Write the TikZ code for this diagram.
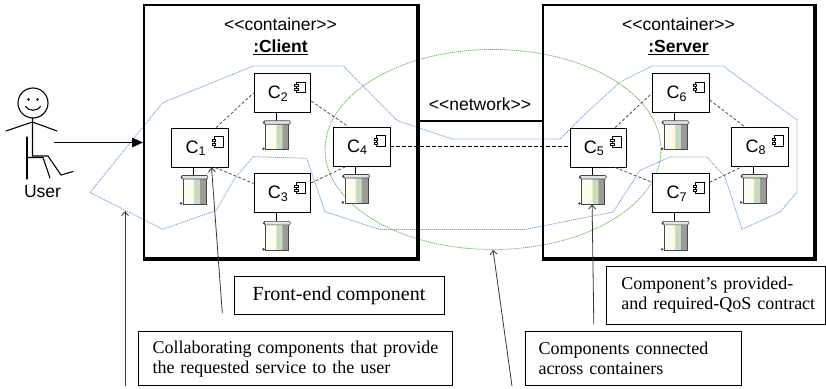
\documentclass[tikz,border=0pt]{standalone}
\usepackage{fontspec}
\setmainfont{Liberation Sans}
\newfontfamily\calloutfont{Liberation Serif}
\usetikzlibrary{arrows.meta,shapes.geometric,calc}

\definecolor{zoneblue}{RGB}{115,160,225}
\definecolor{zonegreen}{RGB}{105,180,85}
\definecolor{linkgray}{RGB}{80,80,80}
\definecolor{leadgray}{RGB}{55,55,55}
\definecolor{artcream}{RGB}{253,251,236}
\definecolor{artgreen}{RGB}{192,222,184}
\definecolor{artlight}{RGB}{228,228,228}
\definecolor{artgray}{RGB}{155,155,155}
\definecolor{artdark}{RGB}{70,70,70}

% vertical stripes of an artifact scroll: cream, green band, grey edge
\pgfdeclarehorizontalshading{scrollshade}{100bp}{%
  color(0bp)=(artcream); color(46bp)=(artcream); color(49bp)=(artgreen);
  color(57bp)=(artgreen); color(59bp)=(artlight); color(61bp)=(artgray);
  color(100bp)=(artgray)}

% subscript of a component label
\newcommand\idxsub[1]{\raisebox{-2.9pt}{\fontsize{12.5}{12.5}\selectfont #1}}

% a component box with its label, component icon and artifact below
\newcommand\umlcomp[3]{%
  \node[comp] (#1) at #2 {};
  \node[clabel] at ($(#1.center)+(-4.5,5.5)$) {C\idxsub{#3}};
  \draw[iconline] ($(#1.north east)+(-14.5,9)$) rectangle ($(#1.north east)+(-5.5,19.5)$);
  \draw[iconline] ($(#1.north east)+(-16.5,11.5)$) rectangle ($(#1.north east)+(-13,13.5)$);
  \draw[iconline] ($(#1.north east)+(-16.5,15.5)$) rectangle ($(#1.north east)+(-13,17.5)$);
  \pic (#1art) at ($(#1.south)+(-6.3,0)$) {scroll};
}

\tikzset{
  container/.style={draw, line width=2pt, inner sep=0pt, minimum height=253pt},
  title/.style={font=\fontsize{17.5}{18}\selectfont, inner sep=0pt, anchor=base},
  comp/.style={draw, line width=0.9pt, fill=white, minimum width=56.5pt,
    minimum height=39pt, inner sep=0pt},
  clabel/.style={font=\fontsize{18}{18}\selectfont, inner sep=0pt, anchor=base},
  iconline/.style={draw=black, line width=0.6pt, fill=white},
  link/.style={linkgray, line width=0.8pt, dash pattern=on 3pt off 2pt},
  netlink/.style={black, line width=0.8pt, dash pattern=on 3.5pt off 2.5pt},
  netline/.style={black, line width=1.6pt},
  zone/.style={zoneblue, line width=0.8pt, dash pattern=on 1.2pt off 0.8pt},
  netzone/.style={draw=zonegreen, line width=0.8pt, dash pattern=on 1.2pt off 0.8pt,
    ellipse, inner sep=0pt},
  actor/.style={black, line width=1.1pt, line cap=round},
  useredge/.style={black, line width=1.4pt, -{Triangle[length=11pt,width=9.5pt]}},
  callout/.style={draw=black, line width=0.8pt, inner xsep=0pt, inner ysep=0pt,
    align=left, font=\calloutfont\fontsize{18}{20}\selectfont},
  leader/.style={leadgray, line width=0.8pt, -{Straight Barb[length=4pt,width=7pt]}},
  artedge/.style={artdark, line width=0.6pt},
  scroll/.pic={
    \draw[black, line width=0.9pt] (0,0) -- (0,8);
    \shade[shading=scrollshade] (-10.5,11) rectangle (12.5,37);
    \draw[artedge] (-10.5,11) -- (-10.5,37) -- (12.5,37) -- (12.5,11);
    \draw[artedge, fill=artlight, rounded corners=1.2pt] (-12.5,8) rectangle (14.2,11.5);
    \fill[artdark] (-12,9.8) circle (1.2);
    \fill[artdark] (-12.6,36) circle (1.4);
    \coordinate (-bot) at (0,37);
  }
}

\begin{document}
\begin{tikzpicture}[x=1pt, y=-1pt]
\useasboundingbox (0,0) rectangle (826,388);

% region of the collaborating components
\draw[zone] (90,192.5) -- (162.7,102.7) -- (253.3,66) -- (343.3,66) -- (397,120.5)
  -- (452,139) -- (560,139) -- (583,116) -- (620,82) -- (652,66) -- (723,66)
  -- (797,120) -- (797,192) -- (780,212) -- (742,229.3) -- (725,177) -- (707,157)
  -- (670,157) -- (640,170.5) -- (613,212) -- (525,229.5) -- (380,229.5)
  -- (325,211.7) -- (306.7,158.3) -- (253.3,156.7) -- (235,178) -- (216,210.5)
  -- (162.7,229.3) -- cycle;
\coordinate (collabtip) at (125,211);

% region of the cross-container connection
\node[netzone, minimum width=336pt, minimum height=200pt] (crossing) at (493,149.5) {};

% containers
\node[container, minimum width=273pt] (client) at (280.5,131.5) {};
\node[container, minimum width=271pt] (server) at (678.5,131.5) {};
\draw[line width=3.2pt] (client.north east) -- (client.south east) -- (client.south west);
\draw[line width=3.2pt] (server.north east) -- (server.south east) -- (server.south west);
\node[title] (clientst) at (280.5,30.5) {<\kern0pt<container>\kern0pt>};
\node[title] (clientnm) at (280.5,52.5) {\underline{\textbf{:Client}}};
\node[title] (serverst) at (678.5,30.5) {<\kern0pt<container>\kern0pt>};
\node[title] (servernm) at (678.5,52.5) {\underline{\textbf{:Server}}};

% network between the containers
\coordinate (nety) at (480,121);
\draw[netline] (client.east |- nety) -- (server.west |- nety);
\node[title] (netlbl) at (480,110.5) {<\kern0pt<network>\kern0pt>};

% components
\umlcomp{C1}{(200,147.5)}{1}
\umlcomp{C2}{(282.4,92.8)}{2}
\umlcomp{C3}{(282.4,193.4)}{3}
\umlcomp{C4}{(361.7,146.5)}{4}
\umlcomp{C5}{(598.4,147.5)}{5}
\umlcomp{C6}{(681,92.8)}{6}
\umlcomp{C7}{(681,193.4)}{7}
\umlcomp{C8}{(760,146.5)}{8}

% connections between components
\draw[link] (C1.51) -- (C2.west);
\draw[link] (C2.-16) -- (C4.124);
\draw[link] (C1.-53) -- (C3.161);
\draw[link] (C3.20) -- (C4.-128);
\draw[netlink] (C4.east) -- (C4.east -| C5.west);
\draw[link] (C5.50) -- (C6.west);
\draw[link] (C6.-14) -- (C8.128);
\draw[link] (C5.-50) -- (C7.159);
\draw[link] (C7.21) -- (C8.-131);

% user (seated stick figure)
\draw[actor] (33,103) circle (15);
\fill (28.5,99.5) circle (1.3);
\fill (37.5,99.5) circle (1.3);
\draw[actor] (25.5,106.5) .. controls (28.5,111.5) and (37.5,111.5) .. (40.5,106.5);
\draw[actor] (6,131) -- (32.5,122) -- (57,131);
\draw[actor] (32.5,118) -- (32.5,156) -- (48,156) -- (61,175) -- (73,171.5);
\draw[actor] (27,137) -- (27,179);
\draw[actor] (27,157.5) -- (43,157.5) -- (50,178);
\node[title] (userlbl) at (42.5,197) {User};
\coordinate (user) at (54,142.5);
\draw[useredge] (user) -- (user -| client.west);

% callouts
\node[callout, minimum width=210pt, minimum height=37.5pt, align=center,
  font=\calloutfont\fontsize{20}{20}\selectfont] (frontend) at (339,295.2)
  {Front-end component};
\node[callout, minimum height=57.6pt, text width=189pt, inner xsep=15.25pt]
  (contract) at (715.8,295.5)
  {\mbox{Component’s provided-}\\\mbox{and required-QoS contract}};
\node[callout, minimum height=54pt, text width=285pt, inner xsep=14.5pt]
  (collab) at (295,358.7)
  {\mbox{Collaborating components that provide}\\\mbox{the requested service to the user}};
\node[callout, minimum height=54pt, text width=190pt, inner xsep=13.25pt]
  (crosstext) at (633.5,358.7)
  {\mbox{Components connected}\\\mbox{across containers}};

\coordinate (frontendfoot) at (222.3,313);
\coordinate (contractfoot) at (593.8,324.3);
\coordinate (collabfoot) at (125,386);
\coordinate (crossfoot) at (512,386);
\draw[leader] (frontendfoot) -- (C1.-60);
\draw[leader] (contractfoot) -- (C5art-bot);
\draw[leader] (collabfoot) -- (collabtip);
\draw[leader] (crossfoot) -- (crossing.south);
\end{tikzpicture}
\end{document}
